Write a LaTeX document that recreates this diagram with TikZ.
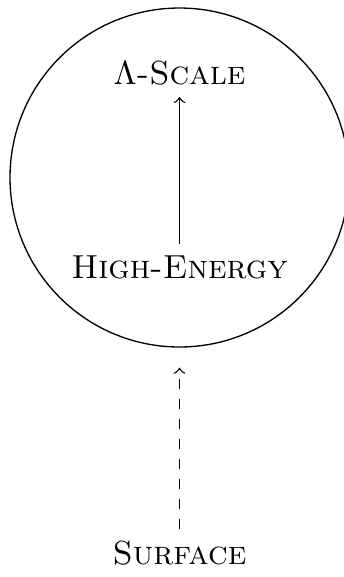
\documentclass[tikz,border=0pt]{standalone}
\usetikzlibrary{positioning}
\begin{document}
\begin{tikzpicture}[x=0.3pt, y=-0.3pt,
  lbl/.style={font=\scshape},
  ball/.style={draw, circle, minimum size=101.7pt, inner sep=0pt},
  arr/.style={->},
  darr/.style={->, dashed, shorten >=6pt}
]
\useasboundingbox (0,0) rectangle (343,577);

\node[ball] (sphere) at (179.5,177.5) {};
\node[lbl] (high) at (179.5,267) {High-Energy};
\node[lbl, above=44pt of high] (scale) {$\Lambda$-Scale};
\draw[arr] (high) -- (scale);

\node[lbl] (surf) at (179.5,553) {Surface};
\draw[darr] (surf) -- (sphere);

\end{tikzpicture}
\end{document}
